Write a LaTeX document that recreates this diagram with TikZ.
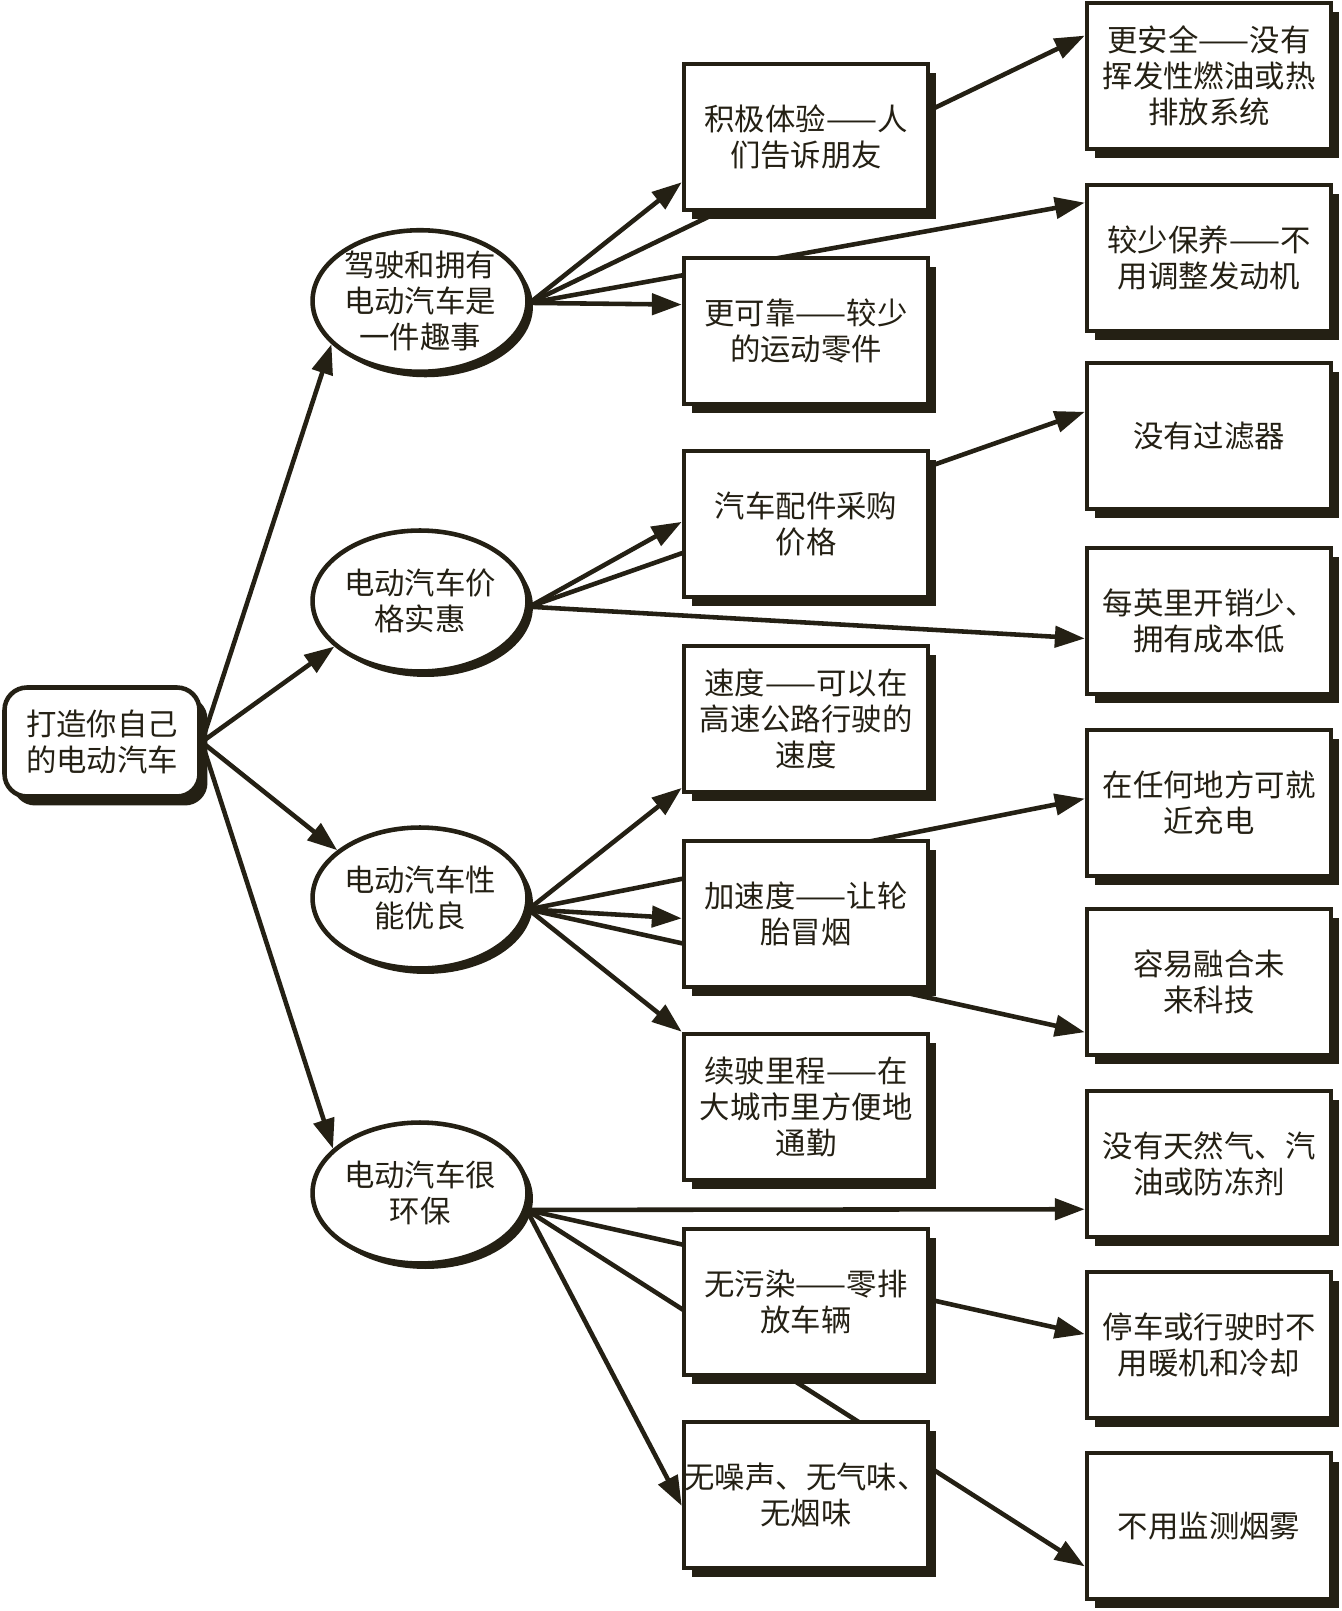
\documentclass[tikz,border=0pt]{standalone}
\usepackage{fontspec}
\setmainfont{Noto Sans CJK SC}
\usepackage{xcolor}
\usetikzlibrary{
  arrows.meta,
  positioning,
  shapes.geometric,
  shadows,
  backgrounds
}
\definecolor{ink}{RGB}{36,32,20}

\begin{document}
\begin{tikzpicture}[
    x=0.02cm, y=-0.02cm,
    every node/.style={font=\fontsize{17.3}{20.5}\selectfont, text=ink, align=center},
    base/.style={draw=ink, line width=2.6pt, fill=white},
    rootbox/.style={base, rounded corners=0.45cm, minimum width=3.9cm, minimum height=2.18cm,
      drop shadow={shadow xshift=0.16cm, shadow yshift=-0.18cm, fill=ink, opacity=1}},
    oval/.style={base, ellipse, inner sep=0pt, minimum width=4.26cm, minimum height=2.82cm,
      drop shadow={shadow xshift=0.11cm, shadow yshift=-0.11cm, fill=ink, opacity=1}},
    item/.style={base, rectangle, inner xsep=0pt, minimum width=4.88cm, minimum height=2.92cm,
      drop shadow={shadow xshift=0.16cm, shadow yshift=-0.18cm, fill=ink, opacity=1}},
    ar/.style={draw=ink, line width=2.6pt, -{Triangle[length=17pt,width=12pt]}}
  ]
    \useasboundingbox (0,0) rectangle (1341,1611);
    % root and the four reasons
    \node[rootbox] (root) at (102,742) {打造你自己\\的电动汽车};
    \node[oval] (fun)   at (420,301)  {驾驶和拥有\\电动汽车是\\一件趣事};
    \node[oval] (cheap) at (420,601)  {电动汽车价\\格实惠};
    \node[oval] (perf)  at (420,898)  {电动汽车性\\能优良};
    \node[oval] (green) at (420,1193) {电动汽车很\\环保};
    % middle column
    \node[item] (mExp)   at (806,137)  {积极体验——人\\们告诉朋友};
    \node[item] (mRel)   at (806,331)  {更可靠——较少\\的运动零件};
    \node[item] (mParts) at (806,524)  {汽车配件采购\\价格};
    \node[item] (mSpeed) at (806,719)  {速度——可以在\\高速公路行驶的\\速度};
    \node[item] (mAcc)   at (806,914)  {加速度——让轮\\胎冒烟};
    \node[item] (mRange) at (806,1107) {续驶里程——在\\大城市里方便地\\通勤};
    \node[item] (mClean) at (806,1302) {无污染——零排\\放车辆};
    \node[item] (mQuiet) at (806,1495) {无噪声、无气味、\\无烟味};
    % right column
    \node[item] (rSafe)   at (1209,76)   {更安全——没有\\挥发性燃油或热\\排放系统};
    \node[item] (rMaint)  at (1209,258)  {较少保养——不\\用调整发动机};
    \node[item] (rFilter) at (1209,436)  {没有过滤器};
    \node[item] (rCost)   at (1209,621)  {每英里开销少、\\拥有成本低};
    \node[item] (rCharge) at (1209,803)  {在任何地方可就\\近充电};
    \node[item] (rTech)   at (1209,982)  {容易融合未\\来科技};
    \node[item] (rGas)    at (1209,1164) {没有天然气、汽\\油或防冻剂};
    \node[item] (rWarm)   at (1209,1345) {停车或行驶时不\\用暖机和冷却};
    \node[item] (rSmog)   at (1209,1526) {不用监测烟雾};
    % connectors run behind the boxes
    \begin{scope}[on background layer]
      \fill[white] (0,0) rectangle (1341,1611);
      \draw[ar] (root.east) -- (fun.206);   \draw[ar] (root.east) -- (cheap.208);
      \draw[ar] (root.east) -- (perf.150);  \draw[ar] (root.east) -- (green.153);
      \draw[ar] (fun.-1) -- (mExp.200);  \draw[ar] (fun.-1) -- (mRel.168);
      \draw[ar] (fun.-1) -- (rSafe.162); \draw[ar] (fun.-1) -- (rMaint.156);
      \draw[ar] (cheap.-3) -- (mParts.179); \draw[ar] (cheap.-3) -- (rFilter.169);
      \draw[ar] (cheap.-3) -- (rCost.188);
      \draw[ar] (perf.-6) -- (mSpeed.209); \draw[ar] (perf.-6) -- (mAcc.182);
      \draw[ar] (perf.-6) -- (rCharge.178); \draw[ar] (perf.-6) -- (rTech.202);
      \draw[ar] (perf.-6) -- (mRange.north west);
      \draw[ar] (green.-9) -- (rGas.200); \draw[ar] (green.-9) -- (rWarm.175);
      \draw[ar] (green.-9) -- (rSmog.198); \draw[ar] (green.-9) -- (mQuiet.185);
    \end{scope}
\end{tikzpicture}
\end{document}
